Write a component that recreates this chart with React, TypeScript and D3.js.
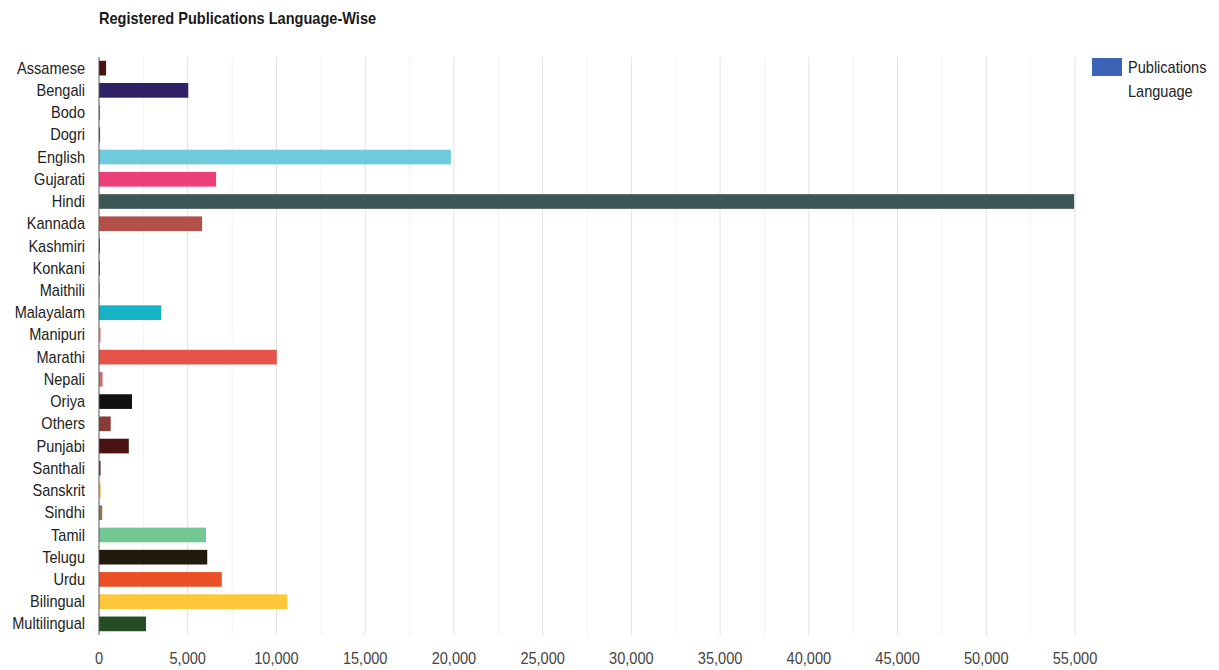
import React from 'react';
import * as d3 from 'd3';

const LANGUAGES = [
  'Assamese', 'Bengali', 'Bodo', 'Dogri', 'English', 'Gujarati', 'Hindi', 'Kannada',
  'Kashmiri', 'Konkani', 'Maithili', 'Malayalam', 'Manipuri', 'Marathi', 'Nepali', 'Oriya',
  'Others', 'Punjabi', 'Santhali', 'Sanskrit', 'Sindhi', 'Tamil', 'Telugu', 'Urdu',
  'Bilingual', 'Multilingual',
];

const PUBLICATIONS = [
  400, 5030, 60, 60, 19830, 6600, 54950, 5810,
  40, 50, 40, 3510, 100, 10020, 200, 1860,
  660, 1680, 90, 120, 180, 6030, 6100, 6920,
  10610, 2650,
];

const BAR_COLORS = [
  '#4a1111', '#2e2165', '#b8665f', '#6b4a48', '#6fcbdc', '#ec3f79', '#3f5657', '#b4504a',
  '#4a4a4a', '#5a4a44', '#d88a8a', '#16b2c6', '#f0a0a8', '#e5544a', '#c87270', '#111111',
  '#883c38', '#4a1313', '#5c3444', '#f2d27a', '#8b7a4e', '#73c793', '#211a0f', '#ea4f25',
  '#fcc83a', '#254e25',
];

const X_TICKS = [0, 5000, 10000, 15000, 20000, 25000, 30000, 35000, 40000, 45000, 50000, 55000];
const X_MINOR = [2500, 7500, 12500, 17500, 22500, 27500, 32500, 37500, 42500, 47500, 52500];

const TITLE = 'Registered Publications Language-Wise';
const LEGEND_LINES = ['Publications', 'Language'];

const W = 1219;
const H = 670;
const FONT = '"Liberation Sans", Arial, sans-serif';

// the source render looks a bit squeezed sideways, so text is drawn narrow
const SQUEEZE = 0.91;

type STextProps = {
  x: number;
  y: number;
  anchor?: 'start' | 'middle' | 'end';
  size?: number;
  weight?: string;
  fill?: string;
  dy?: string;
  children: React.ReactNode;
};

const SText = ({ x, y, anchor = 'start', size = 16, weight = 'normal', fill = '#222', dy, children }: STextProps) => (
  <text
    transform={`translate(${x},${y}) scale(${SQUEEZE},1)`}
    textAnchor={anchor}
    fontSize={size}
    fontWeight={weight}
    fill={fill}
    dy={dy}
  >
    {children}
  </text>
);

export default function App() {
  const x = d3.scaleLinear().domain([0, 55000]).range([99, 1075]);
  const y = d3.scaleBand<string>()
    .domain(LANGUAGES)
    .range([57, 635])
    .paddingInner(0.34)
    .paddingOuter(0.17);
  const fmt = d3.format(',');
  const [top, bottom] = y.range();

  return (
    <svg
      width={W}
      height={H}
      style={{ position: 'absolute', left: 0, top: 0, background: '#fff' }}
      fontFamily={FONT}
    >
      <SText x={99} y={24} weight="bold" fill="#1a1a1a">{TITLE}</SText>

      {/* minor grid */}
      {X_MINOR.map((t) => (
        <line key={'m' + t} x1={x(t)} x2={x(t)} y1={top} y2={bottom} stroke="#f2f2f2" strokeWidth={1} />
      ))}
      {/* major grid */}
      {X_TICKS.slice(1).map((t) => (
        <line key={'g' + t} x1={x(t)} x2={x(t)} y1={top} y2={bottom} stroke="#e2e2e2" strokeWidth={1} />
      ))}

      {LANGUAGES.map((lang, i) => (
        <rect
          key={lang}
          x={x(0)}
          y={y(lang)}
          width={Math.max(1, x(PUBLICATIONS[i]) - x(0))}
          height={y.bandwidth()}
          fill={BAR_COLORS[i]}
        />
      ))}

      {/* baseline */}
      <line x1={x(0)} x2={x(0)} y1={top} y2={bottom} stroke="#555" strokeWidth={1} />

      {LANGUAGES.map((lang) => (
        <SText
          key={'l' + lang}
          x={85}
          y={(y(lang) ?? 0) + y.bandwidth() / 2}
          dy="0.35em"
          anchor="end"
        >
          {lang}
        </SText>
      ))}

      {X_TICKS.map((t) => (
        <SText key={'t' + t} x={x(t)} y={664} anchor="middle" fill="#444">
          {fmt(t)}
        </SText>
      ))}

      {/* legend */}
      <rect x={1092} y={58} width={30} height={18} fill="#3c64b6" />
      {LEGEND_LINES.map((s, i) => (
        <SText key={s} x={1128} y={73 + i * 24}>{s}</SText>
      ))}
    </svg>
  );
}
